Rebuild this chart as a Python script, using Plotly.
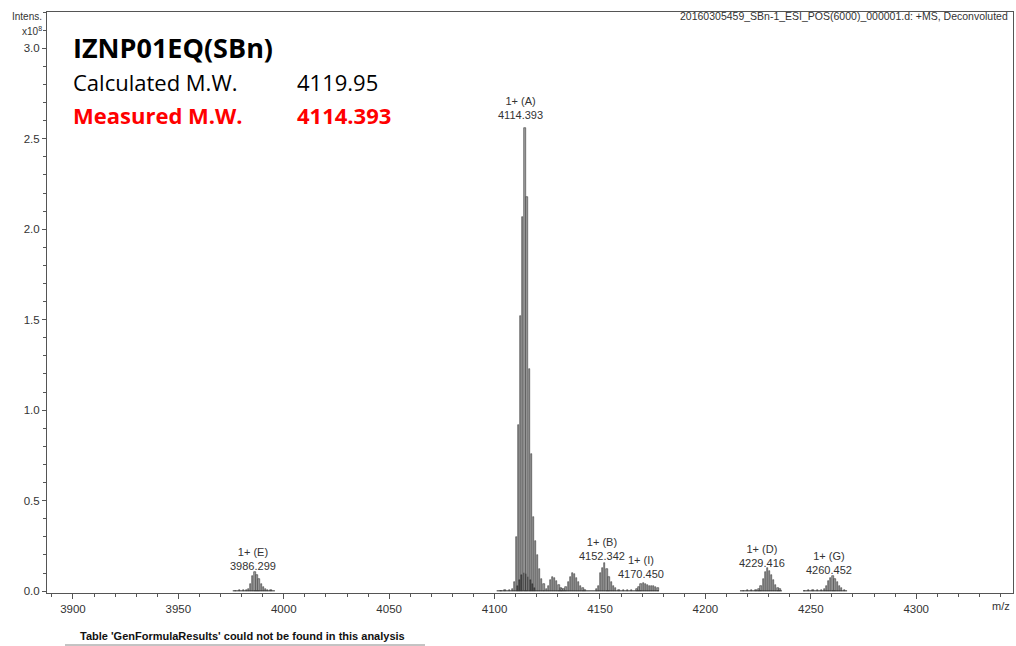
import plotly.graph_objects as go

# ---- data (m/z, intensity x10^8) ----
mz_E = [3977, 3979, 3981, 3982.3, 3983.3, 3984.3, 3985.3, 3986.3, 3987.3, 3988.3, 3989.3, 3990.3, 3991.3, 3992.3, 3994]
int_E = [0.003, 0.004, 0.004, 0.006, 0.012, 0.04, 0.085, 0.105, 0.09, 0.065, 0.04, 0.022, 0.012, 0.007, 0.004]

mz_A = [4103, 4105, 4107, 4108.4, 4109.4, 4110.4, 4111.4, 4112.4, 4113.4, 4114.4, 4115.4, 4116.4,
        4117.4, 4118.4, 4119.4, 4120.4, 4121.4, 4122.4, 4123.4]
int_A = [0.003, 0.004, 0.006, 0.01, 0.05, 0.30, 0.92, 1.52, 2.07, 2.56, 2.18, 1.23,
         0.76, 0.41, 0.28, 0.20, 0.12, 0.07, 0.04]

mz_A2 = [4110.9, 4111.9, 4112.9, 4113.9, 4114.9, 4115.9, 4116.9, 4117.9, 4118.9]
int_A2 = [0.03, 0.06, 0.09, 0.10, 0.095, 0.08, 0.06, 0.04, 0.02]

mz_C1 = [4124.5, 4125.5, 4126.5, 4127.5, 4128.5, 4129.5, 4130.5, 4131.5, 4132.0]
int_C1 = [0.01, 0.03, 0.06, 0.08, 0.075, 0.055, 0.035, 0.02, 0.01]

mz_C2 = [4132.9, 4133.9, 4134.9, 4135.9, 4136.9, 4137.9, 4138.9, 4139.9, 4140.9, 4141.9, 4142.9]
int_C2 = [0.01, 0.025, 0.05, 0.08, 0.10, 0.095, 0.075, 0.05, 0.03, 0.015, 0.008]

mz_B = [4148.3, 4149.3, 4150.3, 4151.3, 4152.3, 4153.3, 4154.3, 4155.3, 4156.3, 4157.3, 4159, 4161, 4163, 4165]
int_B = [0.01, 0.03, 0.10, 0.13, 0.155, 0.12, 0.08, 0.05, 0.03, 0.015, 0.008, 0.006, 0.005, 0.004]

mz_I = [4167.5, 4168.5, 4169.5, 4170.5, 4171.5, 4172.5, 4173.5, 4174.5, 4175.5, 4176.5, 4177.5]
int_I = [0.01, 0.025, 0.04, 0.045, 0.04, 0.035, 0.03, 0.03, 0.028, 0.025, 0.02]

mz_D = [4218, 4220, 4222, 4224, 4225.4, 4226.4, 4227.4, 4228.4, 4229.4, 4230.4, 4231.4, 4232.4, 4233.4, 4234.4, 4235.4]
int_D = [0.003, 0.004, 0.004, 0.006, 0.012, 0.03, 0.07, 0.105, 0.13, 0.11, 0.09, 0.06, 0.035, 0.018, 0.01]

mz_G = [4247, 4249, 4251, 4253, 4255, 4256.5, 4257.5, 4258.5, 4259.5, 4260.5, 4261.5, 4262.5, 4263.5, 4264.5, 4266]
int_G = [0.003, 0.004, 0.005, 0.006, 0.007, 0.012, 0.03, 0.055, 0.075, 0.085, 0.07, 0.05, 0.03, 0.015, 0.005]

# baseline extents of each measured segment
seg_start = [3975.8, 4101.0, 4216.4, 4246.3]
seg_end = [3995.8, 4178.0, 4236.3, 4267.2]

# peak labels
lab_charge = ["1+ (E)", "1+ (A)", "1+ (B)", "1+ (I)", "1+ (D)", "1+ (G)"]
lab_mass = ["3986.299", "4114.393", "4152.342", "4170.450", "4229.416", "4260.452"]
lab_x = [3985.5, 4112.3, 4150.8, 4169.5, 4226.8, 4258.5]
lab_y = [0.10, 2.59, 0.155, 0.055, 0.115, 0.08]

xticks = [3900, 3950, 4000, 4050, 4100, 4150, 4200, 4250, 4300]
yticks = [0.0, 0.5, 1.0, 1.5, 2.0, 2.5, 3.0]

AX = "Arial, Liberation Sans, sans-serif"
TXT = "#333333"

fig = go.Figure()

bx, by = [], []
for s, e in zip(seg_start, seg_end):
    bx += [s, e, None]
    by += [0.002, 0.002, None]
fig.add_trace(go.Scatter(x=bx, y=by, mode="lines", line=dict(color="#333333", width=1),
                         hoverinfo="skip", showlegend=False))

main_mz = mz_E + mz_A + mz_C1 + mz_C2 + mz_B + mz_I + mz_D + mz_G
main_int = int_E + int_A + int_C1 + int_C2 + int_B + int_I + int_D + int_G
fig.add_trace(go.Bar(x=main_mz, y=main_int, width=0.6,
                     marker=dict(color="#a0a0a0", line=dict(color="#3a3a3a", width=0.6)),
                     showlegend=False))
fig.add_trace(go.Bar(x=mz_A2, y=int_A2, width=0.35,
                     marker=dict(color="#444444", line=dict(color="#222222", width=0.4)),
                     showlegend=False))

for c, m, x, y in zip(lab_charge, lab_mass, lab_x, lab_y):
    fig.add_annotation(x=x, y=y, xref="x", yref="y", text=c + "<br>" + m, showarrow=False,
                       yanchor="bottom", font=dict(family=AX, size=11, color=TXT),
                       align="center", borderpad=0)

W, H = 1016, 646
L, R, T, B = 47, 3, 12, 53
pw, ph = W - L - R, H - T - B


def px(x):
    return (x - L) / pw


def py(y):
    return (H - B - y) / ph


# header texts
fig.add_annotation(x=px(1010), y=py(16), xref="paper", yref="paper", xanchor="right", yanchor="middle",
                   text="20160305459_SBn-1_ESI_POS(6000)_000001.d: +MS, Deconvoluted",
                   showarrow=False, font=dict(family=AX, size=10.5, color=TXT))
fig.add_annotation(x=px(44), y=py(17), xref="paper", yref="paper", xanchor="right", yanchor="middle",
                   text="Intens.", showarrow=False, font=dict(family=AX, size=10, color=TXT))
fig.add_annotation(x=px(44), y=py(31), xref="paper", yref="paper", xanchor="right", yanchor="middle",
                   text="x10<sup>8</sup>", showarrow=False, font=dict(family=AX, size=10, color=TXT))
fig.add_annotation(x=px(1012), y=py(606), xref="paper", yref="paper", xanchor="right", yanchor="middle",
                   text="m/z", showarrow=False, font=dict(family=AX, size=11, color=TXT))

# sample info block
TF = "Open Sans, Noto Sans, sans-serif"
fig.add_annotation(x=px(71), y=py(48), xref="paper", yref="paper", xanchor="left", yanchor="middle",
                   text="<b>IZNP01EQ(SBn)</b>", showarrow=False, font=dict(family=TF, size=27, color="black"))
fig.add_annotation(x=px(71), y=py(82), xref="paper", yref="paper", xanchor="left", yanchor="middle",
                   text="Calculated M.W.", showarrow=False, font=dict(family=TF, size=22, color="black"))
fig.add_annotation(x=px(295), y=py(82), xref="paper", yref="paper", xanchor="left", yanchor="middle",
                   text="4119.95", showarrow=False, font=dict(family=TF, size=22, color="black"))
fig.add_annotation(x=px(71), y=py(115), xref="paper", yref="paper", xanchor="left", yanchor="middle",
                   text="<b>Measured M.W.</b>", showarrow=False, font=dict(family=TF, size=22, color="#ff0000"))
fig.add_annotation(x=px(295), y=py(115), xref="paper", yref="paper", xanchor="left", yanchor="middle",
                   text="<b>4114.393</b>", showarrow=False, font=dict(family=TF, size=22, color="#ff0000"))

# footer
fig.add_annotation(x=px(78), y=py(636), xref="paper", yref="paper", xanchor="left", yanchor="middle",
                   text="<b>Table 'GenFormulaResults' could not be found in this analysis</b>",
                   showarrow=False, font=dict(family=AX, size=11, color="#111111"))
fig.add_shape(type="line", xref="paper", yref="paper", x0=px(65), x1=px(425), y0=py(645), y1=py(645),
              line=dict(color="#888888", width=1))

fig.update_layout(
    width=W, height=H,
    margin=dict(l=L, r=R, t=T, b=B),
    paper_bgcolor="white", plot_bgcolor="white",
    barmode="overlay", bargap=0,
    xaxis=dict(range=[3887.7, 4345.9], tickvals=xticks, ticks="outside", ticklen=5, tickcolor="#555555",
               showline=True, linecolor="#555555", linewidth=1, mirror=True, showgrid=False, zeroline=False,
               tickfont=dict(family=AX, size=11.5, color=TXT),
               minor=dict(dtick=10, tick0=3900, ticks="outside", ticklen=3, tickcolor="#555555")),
    yaxis=dict(range=[-0.01, 3.2], tickvals=yticks, ticktext=["0.0", "0.5", "1.0", "1.5", "2.0", "2.5", "3.0"],
               ticks="outside", ticklen=4, tickcolor="#555555",
               showline=True, linecolor="#555555", linewidth=1, mirror=True, showgrid=False, zeroline=False,
               tickfont=dict(family=AX, size=11.5, color=TXT),
               minor=dict(dtick=0.1, tick0=0, ticks="outside", ticklen=3, tickcolor="#555555")),
)

fig.write_html("out.html", config={"displayModeBar": False},
               post_script="document.body.style.margin='0';document.body.style.overflow='hidden';")
